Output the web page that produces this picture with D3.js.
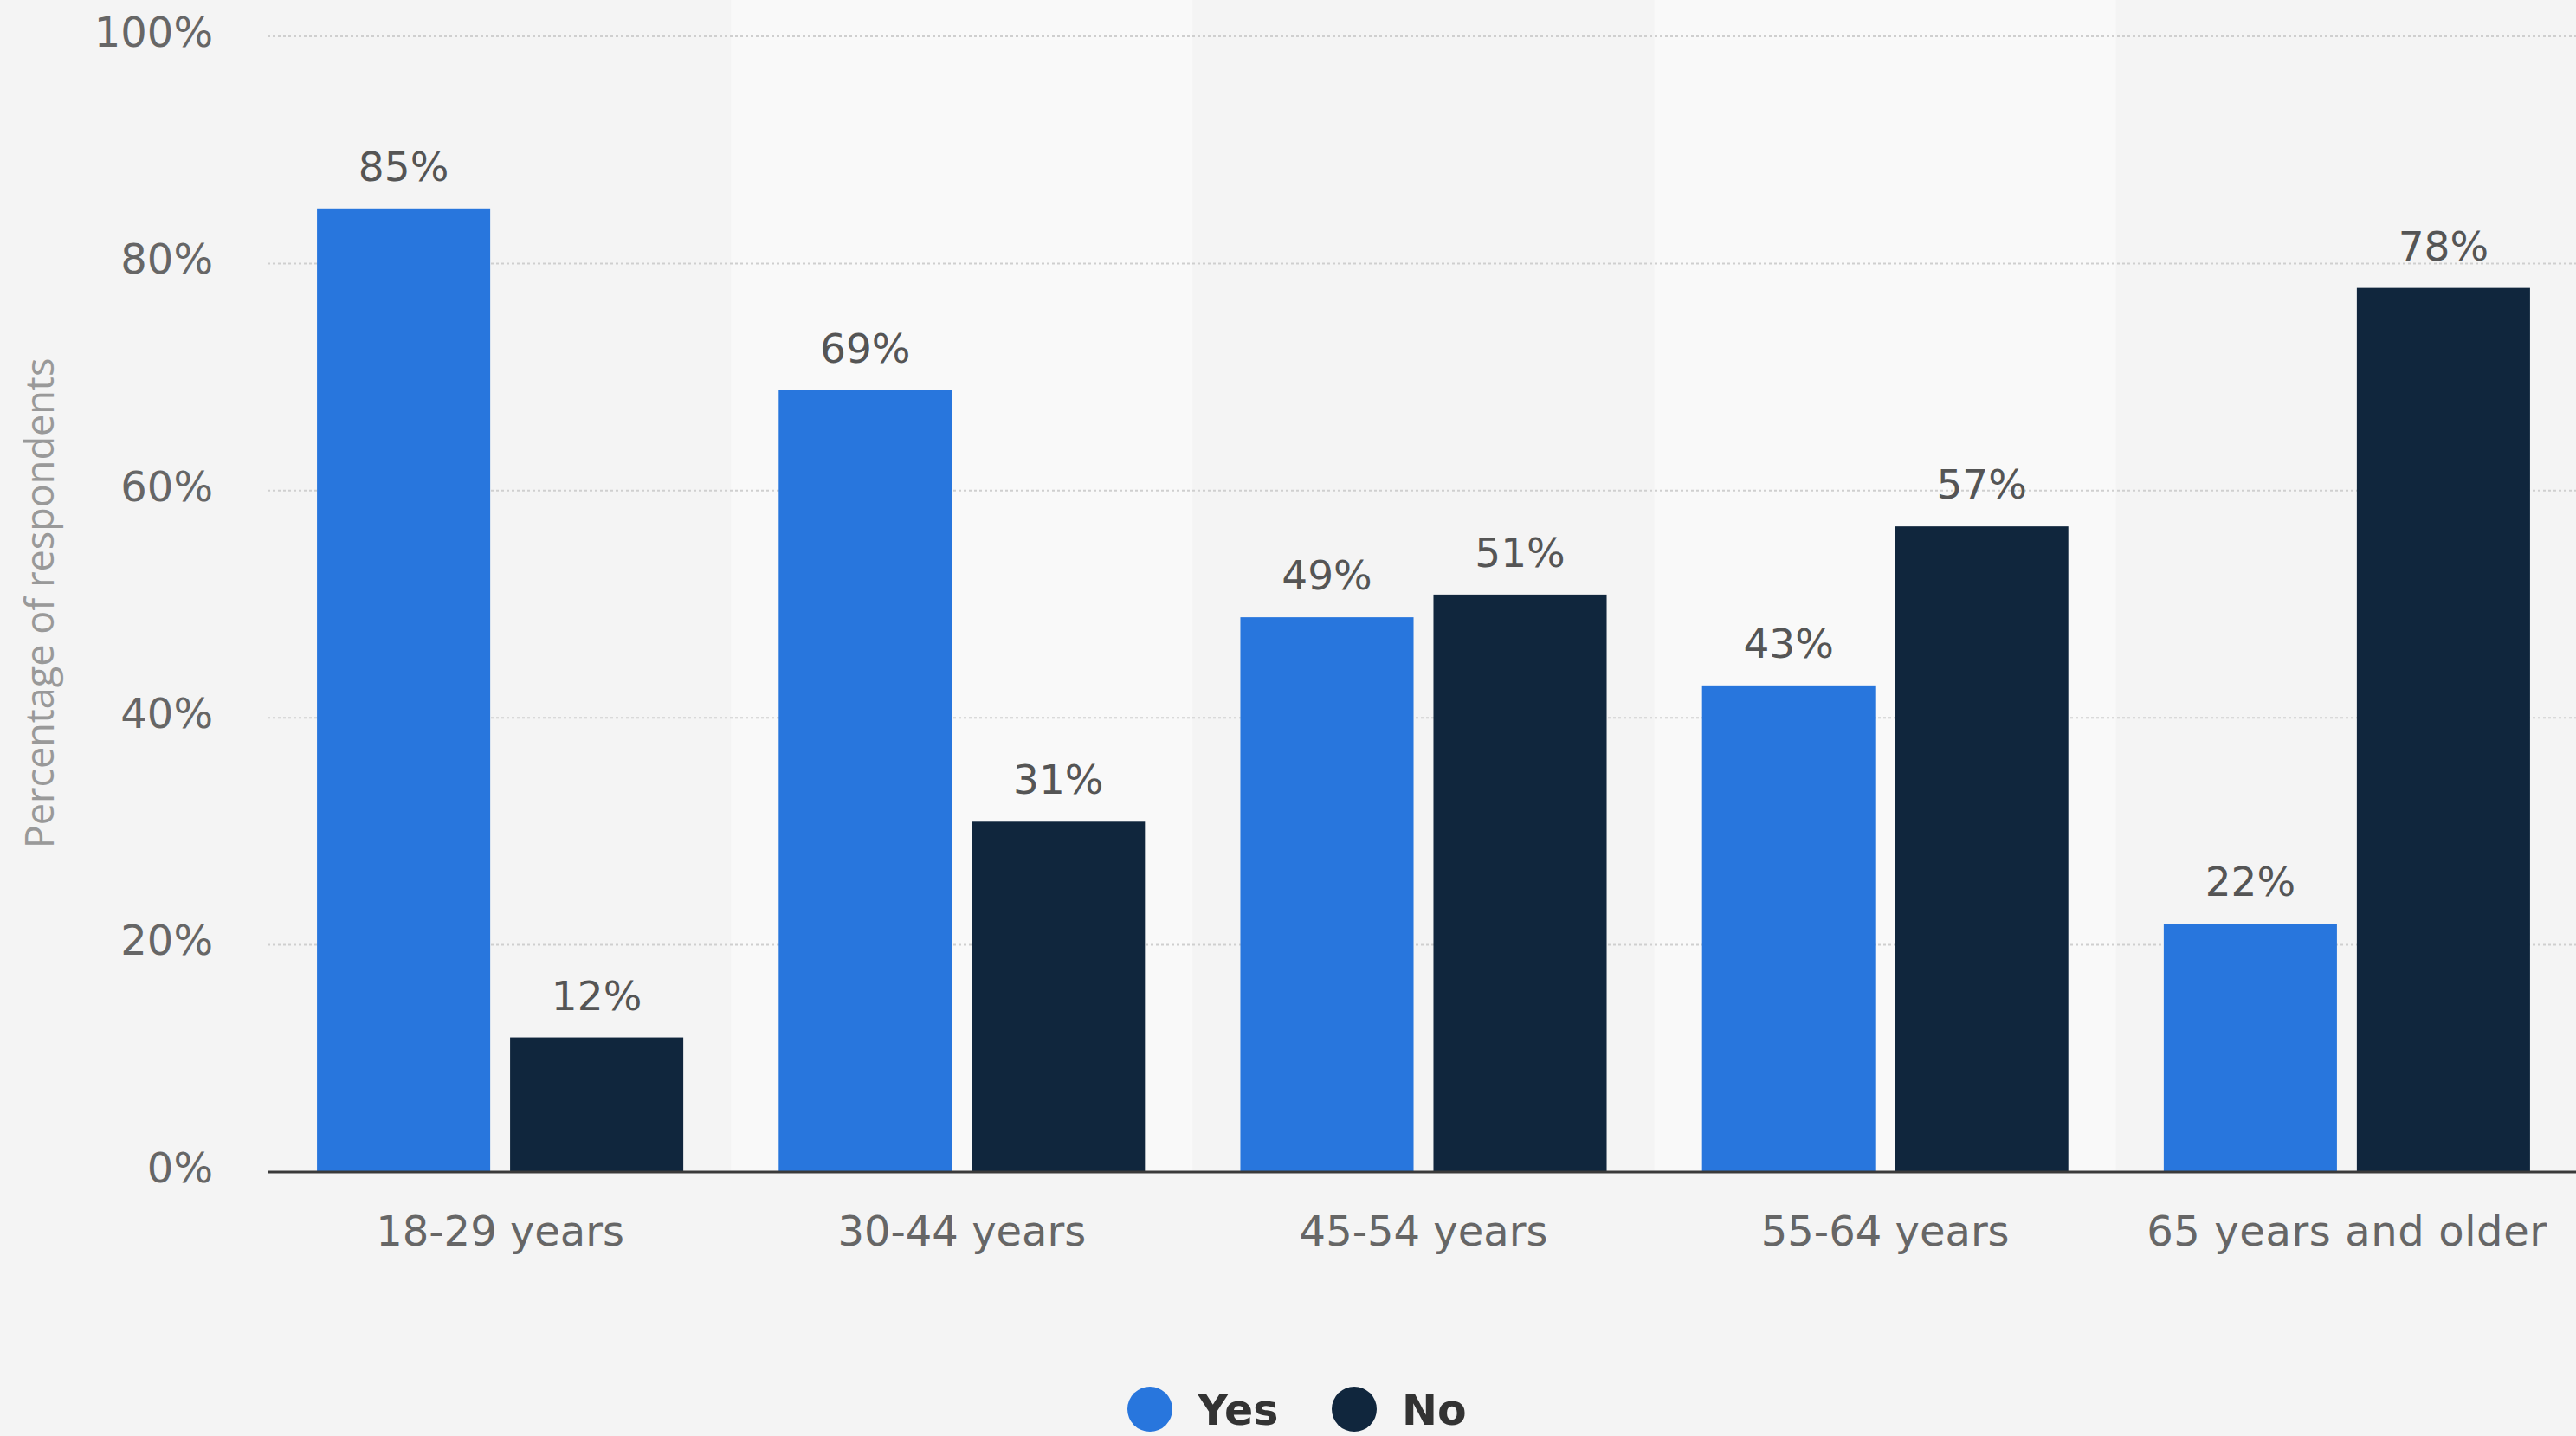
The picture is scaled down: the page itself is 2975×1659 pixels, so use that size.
<!DOCTYPE html>
<html>
<head>
<meta charset="utf-8">
<script src="https://cdn.jsdelivr.net/npm/d3@7"></script>
<style>
  html, body { margin: 0; padding: 0; background: #f4f4f4; }
  svg { display: block; }
</style>
</head>
<body>
<svg id="chart" width="2975" height="1659"></svg>
<script>
const categories = ["18-29 years", "30-44 years", "45-54 years", "55-64 years", "65 years and older"];
const seriesNames = ["Yes", "No"];
const yesValues = [85, 69, 49, 43, 22];
const noValues = [12, 31, 51, 57, 78];
const yTicks = [0, 20, 40, 60, 80, 100];
const colors = { Yes: "#2876dd", No: "#10263d" };

const W = 2975, H = 1659;
const margin = { left: 311, right: 0, top: 42, bottom: 1354 };
const svg = d3.select("#chart");

svg.append("rect").attr("width", W).attr("height", H).attr("fill", "#f4f4f4");

const x0 = d3.scaleBand().domain(categories).range([margin.left, W + 2]).padding(0);
const x1 = d3.scaleBand().domain(seriesNames).range([0, x0.bandwidth()])
  .paddingInner(0.103).paddingOuter(0.247);
const y = d3.scaleLinear().domain([0, 100]).range([margin.bottom, margin.top]);

// alternating band backgrounds
svg.append("g").selectAll("rect").data(categories).join("rect")
  .attr("x", d => x0(d)).attr("y", 0)
  .attr("width", x0.bandwidth()).attr("height", y(0))
  .attr("fill", (d, i) => i % 2 === 1 ? "#f9f9f9" : "#f4f4f4");

// grid lines
svg.append("g").selectAll("line").data(yTicks.filter(t => t > 0)).join("line")
  .attr("x1", margin.left - 2).attr("x2", W)
  .attr("y1", d => y(d)).attr("y2", d => y(d))
  .attr("stroke", "#cfcfcf").attr("stroke-width", 2)
  .attr("stroke-dasharray", "3,3");

// y tick labels
const yAxis = d3.axisLeft(y).tickValues(yTicks).tickFormat(d => d + "%").tickSize(0).tickPadding(0);
const yg = svg.append("g").attr("transform", "translate(246,-4)").call(yAxis);
yg.select(".domain").remove();
yg.selectAll("text")
  .attr("font-family", "DejaVu Sans, sans-serif").attr("font-size", 48)
  .attr("fill", "#666");

// bars
const data = categories.map((c, i) => ({ cat: c, values: [
  { key: "Yes", value: yesValues[i] }, { key: "No", value: noValues[i] }] }));

const groups = svg.append("g").selectAll("g").data(data).join("g")
  .attr("transform", d => `translate(${x0(d.cat)},0)`);

groups.selectAll("rect").data(d => d.values).join("rect")
  .attr("x", d => x1(d.key)).attr("width", x1.bandwidth())
  .attr("y", d => y(d.value) + 2).attr("height", d => y(0) - y(d.value) - 2)
  .attr("fill", d => colors[d.key]);

groups.selectAll("text").data(d => d.values).join("text")
  .attr("x", d => x1(d.key) + x1.bandwidth() / 2)
  .attr("y", d => y(d.value) - 30)
  .attr("text-anchor", "middle")
  .attr("font-family", "DejaVu Sans, sans-serif").attr("font-size", 47)
  .attr("fill", "#555")
  .text(d => d.value + "%");

// x axis
const xAxis = d3.axisBottom(x0).tickSize(0).tickPadding(0);
const xg = svg.append("g").attr("transform", `translate(0,${y(0)})`).call(xAxis);
xg.select(".domain").attr("stroke", "#3a3a3a").attr("stroke-width", 3)
  .attr("d", `M${margin.left - 2},0H${W}`);
xg.selectAll("text")
  .attr("dy", null).attr("y", 85)
  .attr("font-family", "DejaVu Sans, sans-serif").attr("font-size", 48)
  .attr("letter-spacing", d => d.length > 12 ? 0.6 : 0)
  .attr("fill", "#666");

// y axis title
svg.append("text")
  .attr("transform", "translate(62,697) rotate(-90)")
  .attr("text-anchor", "middle")
  .attr("font-family", "Open Sans, sans-serif").attr("font-size", 45)
  .attr("fill", "#999")
  .text("Percentage of respondents");

// legend
const legend = svg.append("g").attr("transform", "translate(1328,1628)");
const legendOffsets = [0, 236];
const li = legend.selectAll("g").data(seriesNames).join("g")
  .attr("transform", (d, i) => `translate(${legendOffsets[i]},0)`);
li.append("circle").attr("r", 26).attr("fill", d => colors[d]);
li.append("text").attr("x", 55).attr("y", 18)
  .attr("font-family", "DejaVu Sans, sans-serif").attr("font-weight", "bold")
  .attr("font-size", 49).attr("fill", "#333")
  .text(d => d);
</script>
</body>
</html>
